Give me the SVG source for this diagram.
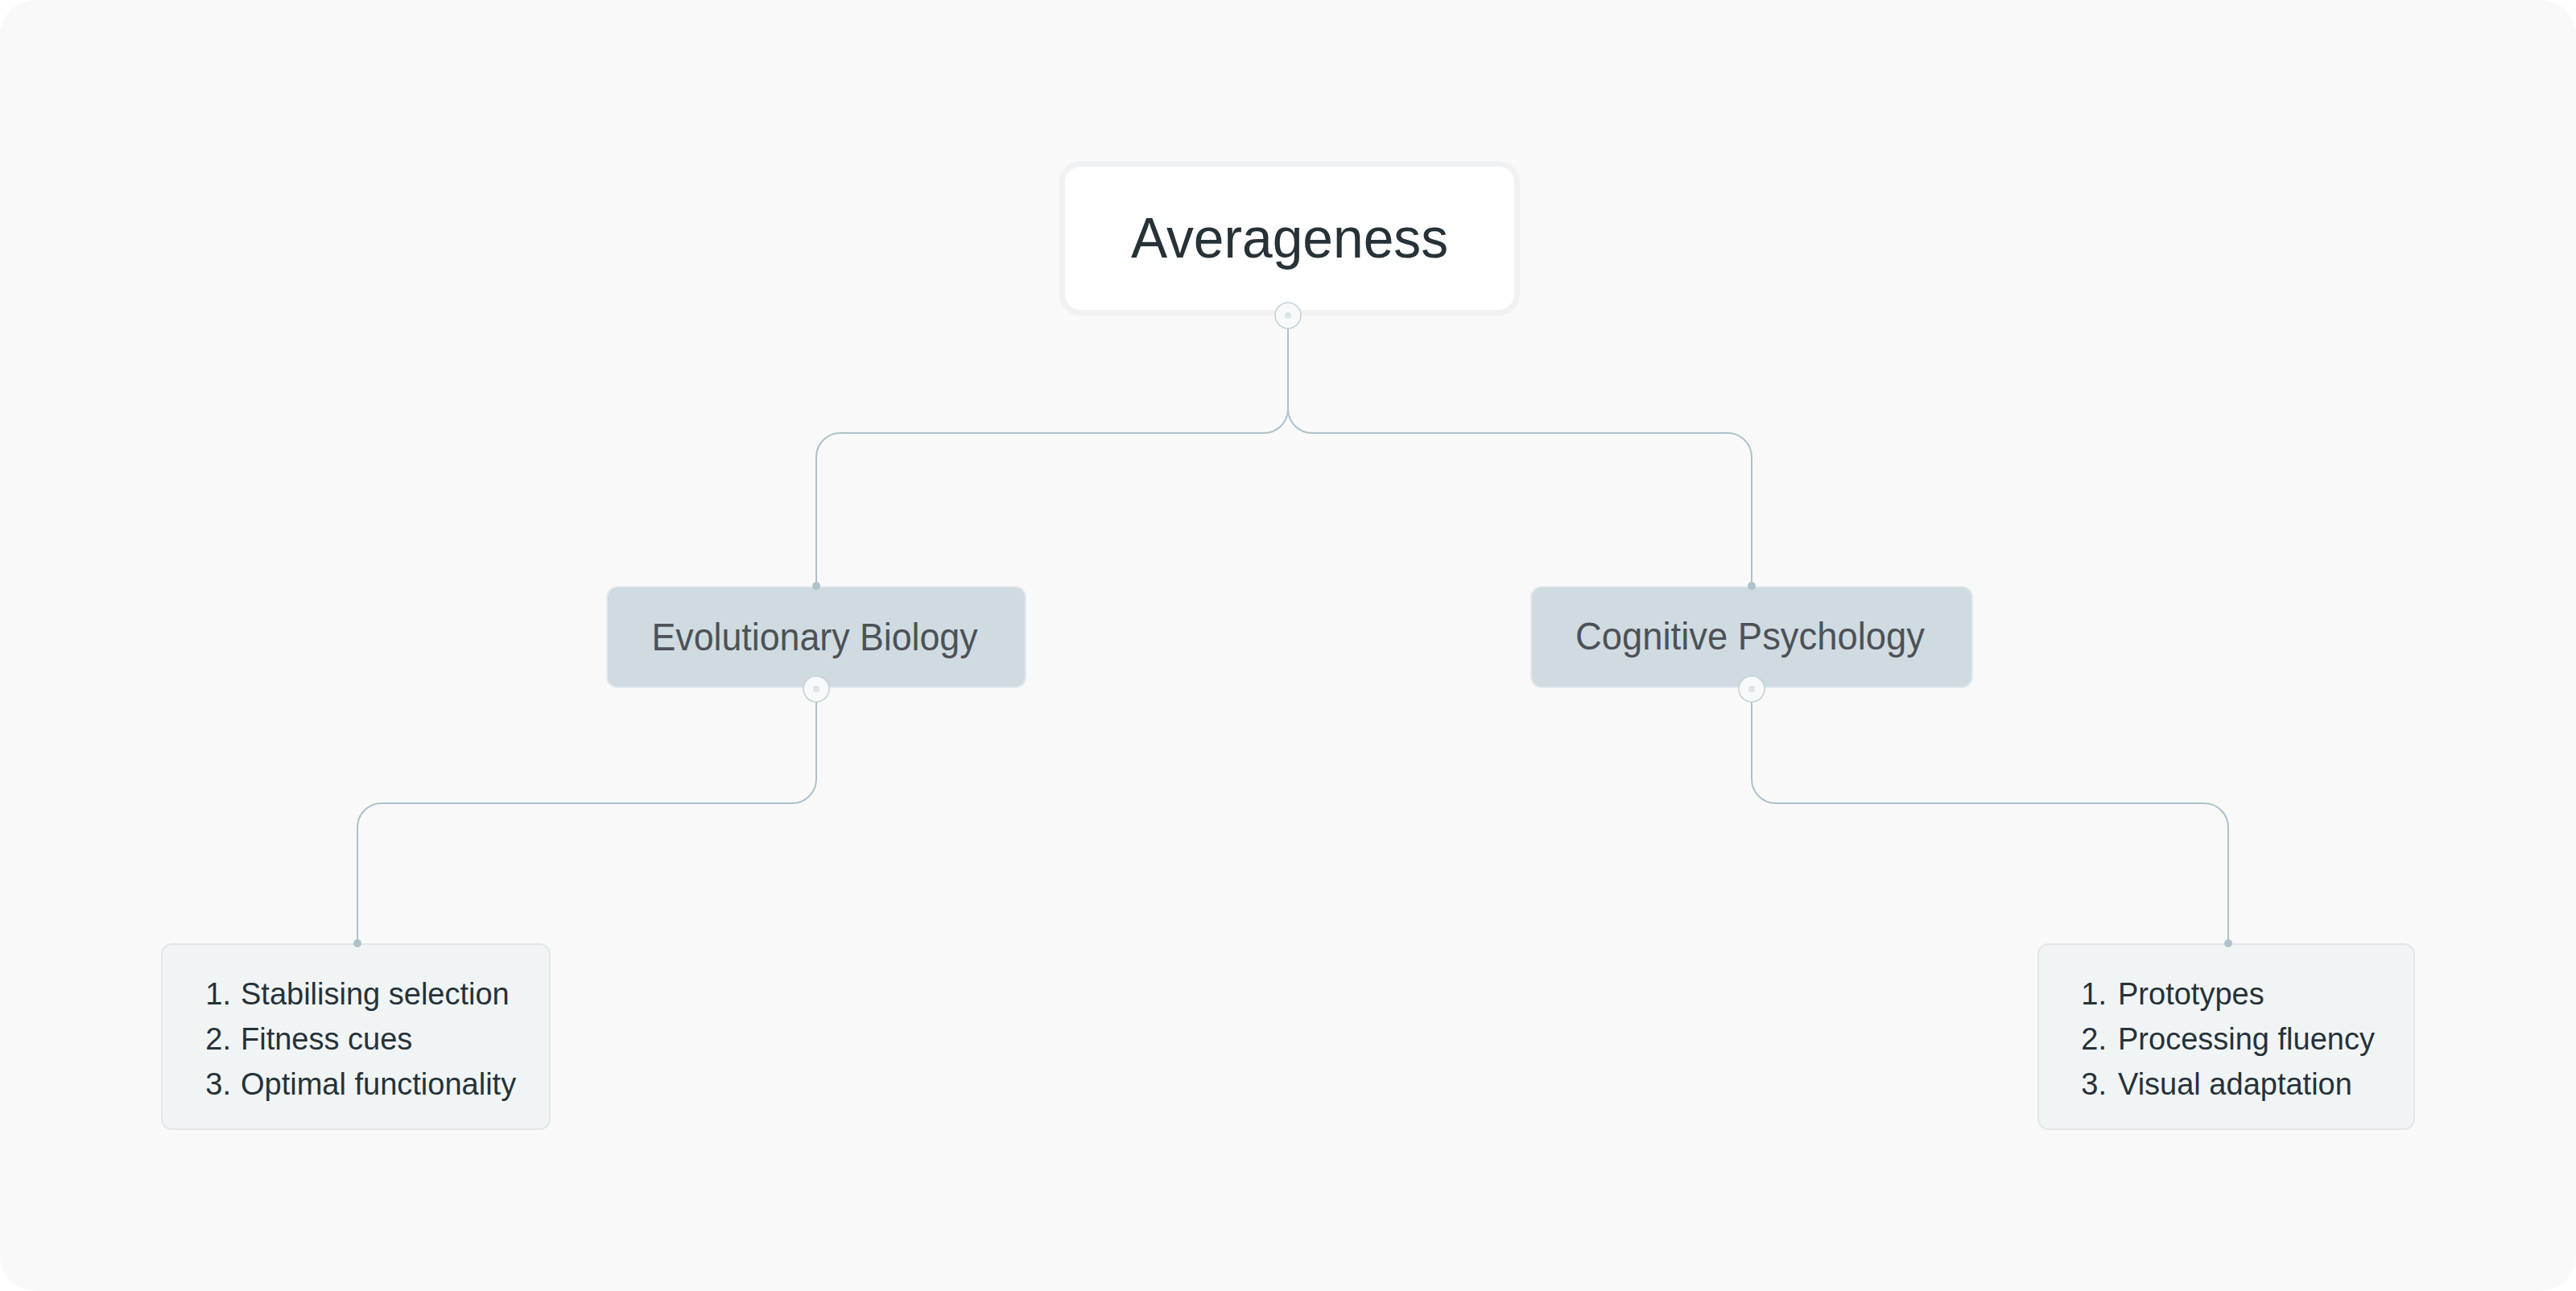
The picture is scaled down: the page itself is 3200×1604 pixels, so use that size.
<svg xmlns="http://www.w3.org/2000/svg" width="3200" height="1604" viewBox="0 0 3200 1604">
<style>
.bg{fill:#f9f9f9}
.conn{fill:none;stroke:#adc2cb;stroke-width:2}
.dot{fill:#adc2cb}
.toggle{fill:#f7f9fa;stroke:#c5d3d9;stroke-width:1.6}
.toggle-in{fill:#dce4e8}
.root-box{fill:#ffffff;stroke:#f0f1f2;stroke-width:7}
.sub-box{fill:#cfdbe1;stroke:#e4eaed;stroke-width:2}
.leaf-box{fill:#f1f4f5;stroke:#e3e7e9;stroke-width:2}
.t{font-family:"Liberation Sans",Arial,sans-serif}
.root-t{font-size:71px;fill:#263238}
.sub-t{font-size:48px;fill:#4d5257}
.leaf-t{font-size:38px;fill:#263238}
</style>
<rect x="0" y="0" width="3200" height="1604" fill="#ffffff"/>
<rect class="bg" x="0" y="0" width="3200" height="1604" rx="44"/>
<g id="connectors">
<path class="conn" d="M1600 408 V508 A30 30 0 0 1 1570 538 H1044 A30 30 0 0 0 1014 568 V728"/>
<path class="conn" d="M1600 508 A30 30 0 0 0 1630 538 H2146 A30 30 0 0 1 2176 568 V728"/>
<path class="conn" d="M1014 872 V968 A30 30 0 0 1 984 998 H474 A30 30 0 0 0 444 1028 V1172"/>
<path class="conn" d="M2176 872 V968 A30 30 0 0 0 2206 998 H2738 A30 30 0 0 1 2768 1028 V1172"/>
</g>
<g id="node-root">
<rect class="root-box" x="1319.5" y="203.5" width="565" height="185" rx="23"/>
<text class="t root-t" x="1602" y="320" text-anchor="middle" textLength="394" lengthAdjust="spacingAndGlyphs">Averageness</text>
<circle class="toggle" cx="1600" cy="392" r="16"/>
<circle class="toggle-in" cx="1600" cy="392" r="4"/>
</g>
<g id="node-evolutionary-biology">
<rect class="sub-box" x="754" y="729" width="520" height="125" rx="13"/>
<text class="t sub-t" x="1012" y="808" text-anchor="middle" textLength="405" lengthAdjust="spacingAndGlyphs">Evolutionary Biology</text>
<circle class="dot" cx="1014" cy="728" r="5"/>
<circle class="toggle" cx="1014" cy="856" r="16"/>
<circle class="toggle-in" cx="1014" cy="856" r="4"/>
</g>
<g id="node-cognitive-psychology">
<rect class="sub-box" x="1902" y="729" width="548" height="125" rx="13"/>
<text class="t sub-t" x="2174" y="807" text-anchor="middle" textLength="434" lengthAdjust="spacingAndGlyphs">Cognitive Psychology</text>
<circle class="dot" cx="2176" cy="728" r="5"/>
<circle class="toggle" cx="2176" cy="856" r="16"/>
<circle class="toggle-in" cx="2176" cy="856" r="4"/>
</g>
<g id="node-evo-list">
<rect class="leaf-box" x="201" y="1173" width="482" height="230" rx="13"/>
<circle class="dot" cx="444" cy="1172" r="5"/>
<text class="t leaf-t" x="287" y="1248" text-anchor="end">1.</text>
<text class="t leaf-t" x="287" y="1304" text-anchor="end">2.</text>
<text class="t leaf-t" x="287" y="1360" text-anchor="end">3.</text>
<text class="t leaf-t" x="299" y="1248">Stabilising selection</text>
<text class="t leaf-t" x="299" y="1304">Fitness cues</text>
<text class="t leaf-t" x="299" y="1360">Optimal functionality</text>
</g>
<g id="node-cog-list">
<rect class="leaf-box" x="2532" y="1173" width="467" height="230" rx="13"/>
<circle class="dot" cx="2768" cy="1172" r="5"/>
<text class="t leaf-t" x="2617" y="1248" text-anchor="end">1.</text>
<text class="t leaf-t" x="2617" y="1304" text-anchor="end">2.</text>
<text class="t leaf-t" x="2617" y="1360" text-anchor="end">3.</text>
<text class="t leaf-t" x="2631" y="1248">Prototypes</text>
<text class="t leaf-t" x="2631" y="1304">Processing fluency</text>
<text class="t leaf-t" x="2631" y="1360">Visual adaptation</text>
</g>
</svg>
